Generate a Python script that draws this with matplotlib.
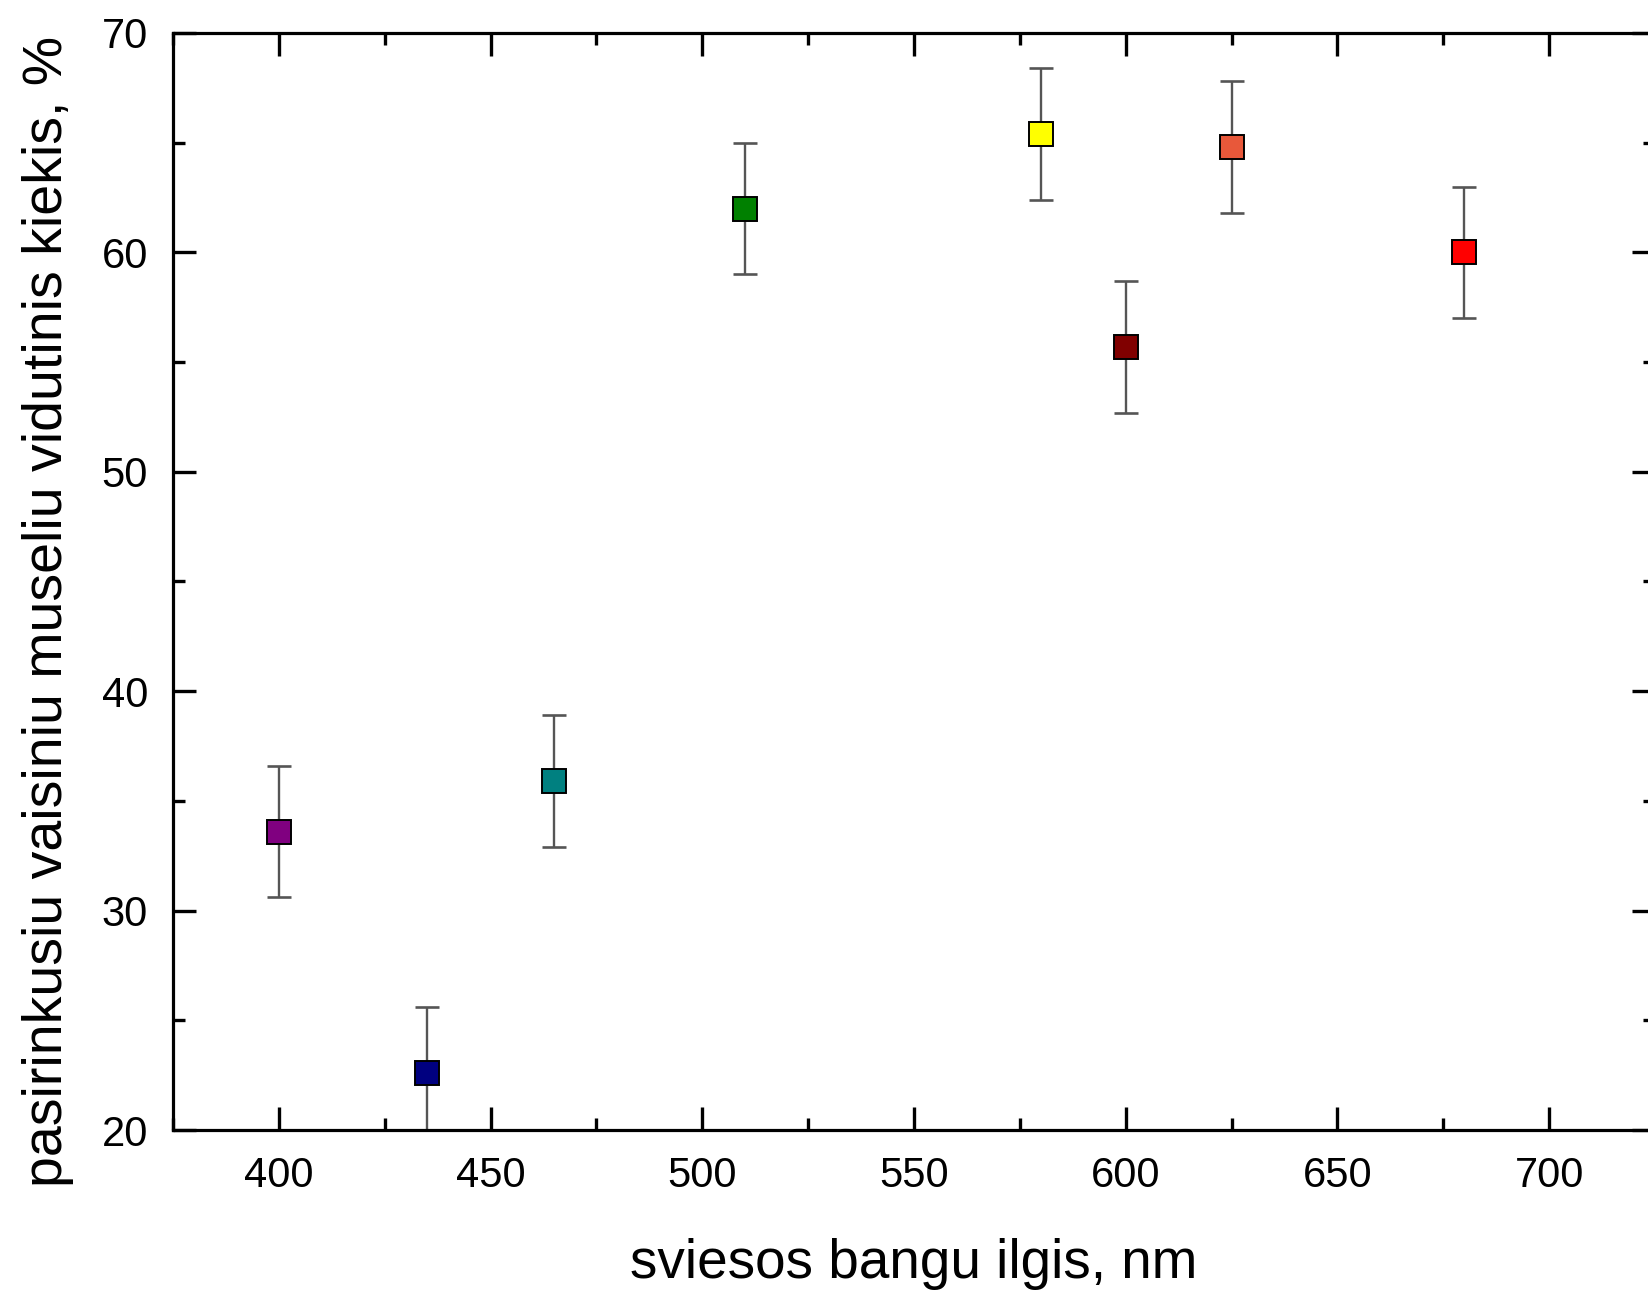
import matplotlib
matplotlib.use('Agg')
import matplotlib.pyplot as plt
from matplotlib.ticker import MultipleLocator

plt.rcParams['font.family'] = ['Liberation Sans', 'DejaVu Sans']

# data
wavelength = [400, 435, 465, 510, 580, 600, 625, 680]
share = [33.6, 22.6, 35.9, 62.0, 65.4, 55.7, 64.8, 60.0]
err = [3.0, 3.0, 3.0, 3.0, 3.0, 3.0, 3.0, 3.0]
colors = ['#800080', '#000080', '#008080', '#008000',
          '#FFFF00', '#800000', '#E8583A', '#FF0000']

fig = plt.figure(figsize=(16.49, 12.91), dpi=100)
ax = fig.add_axes([173/1649, 161/1291, 1482/1649, 1097/1291])

for x, y, e, c in zip(wavelength, share, err, colors):
    ax.errorbar(x, y, yerr=e, fmt='none', ecolor='#555555',
                elinewidth=1.7, capsize=8.5, capthick=1.9, zorder=2)
    ax.plot(x, y, 's', markersize=17.5, markerfacecolor=c,
            markeredgecolor='black', markeredgewidth=1.4, zorder=3)

ax.set_xlim(375, 725)
ax.set_ylim(20, 70)
ax.xaxis.set_major_locator(MultipleLocator(50))
ax.xaxis.set_minor_locator(MultipleLocator(25))
ax.yaxis.set_major_locator(MultipleLocator(10))
ax.yaxis.set_minor_locator(MultipleLocator(5))

ax.tick_params(which='both', direction='in', top=True, right=True,
               width=2.4, labelsize=30)
ax.tick_params(which='major', length=16.5)
ax.tick_params(which='minor', length=8.5)
ax.tick_params(axis='x', pad=19)
ax.tick_params(axis='y', pad=18)
for s in ax.spines.values():
    s.set_linewidth(2.3)

ax.set_xlabel('sviesos bangu ilgis, nm', fontsize=39.5)
ax.set_ylabel('pasirinkusiu vaisiniu museliu vidutinis kiekis, %', fontsize=40)
ax.xaxis.set_label_coords(0.5, -0.098)
ax.yaxis.set_label_coords(-0.067, 0.473)

fig.savefig('out.png', dpi=100)
